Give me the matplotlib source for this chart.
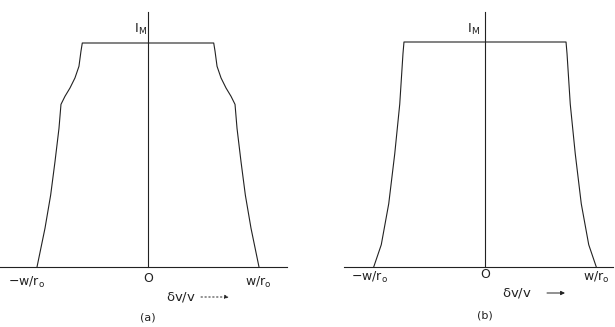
import numpy as np
import matplotlib
matplotlib.use("Agg")
import matplotlib.pyplot as plt

plt.rcParams['mathtext.fontset'] = 'dejavusans'
plt.rcParams['font.family'] = ['DejaVu Sans']

# profile (a): normalized height vs half-width (in units of w/r0)
h_a = [1.0, 0.963, 0.896, 0.844, 0.799, 0.762, 0.726, 0.619, 0.470, 0.321, 0.173, 0.0]
w_a = [0.592, 0.604, 0.622, 0.658, 0.703, 0.748, 0.784, 0.802, 0.838, 0.877, 0.928, 1.0]

# profile (b)
h_b = [1.0, 0.948, 0.724, 0.503, 0.281, 0.099, 0.0]
w_b = [0.728, 0.737, 0.766, 0.811, 0.865, 0.932, 1.0]

tick_labels = [r'$\mathrm{-w/r_o}$', 'O', r'$\mathrm{w/r_o}$']
col = '#222222'
lw = 0.8

fig = plt.figure(figsize=(6.15, 3.27), dpi=100)

# axes in pixel mapping: center px, baseline px, height px, unit px
panels = [
    dict(rect=[0.0, 0.0, 0.5, 1.0], cx=148, by=267, hp=224, up=111,
         h=h_a, w=w_a, base=(0, 287), vtop=12, lab='(a)', labx=148, laby=318,
         tl=[(27, 282), (148, 278), (258, 282)], dv=(181, 297), arr=(201, 229),
         dashed=True, im=(141, 29)),
    dict(rect=[0.5, 0.0, 0.5, 1.0], cx=485, by=267, hp=225, up=111.3,
         h=h_b, w=w_b, base=(344, 613), vtop=12, lab='(b)', labx=485, laby=315,
         tl=[(370, 277), (485, 275), (596, 277)], dv=(517, 293), arr=(547, 565),
         dashed=False, im=(474, 29)),
]

for p in panels:
    ax = fig.add_axes(p['rect'])
    x0px = p['rect'][0] * 615
    x1px = x0px + p['rect'][2] * 615
    fx = lambda px: (px - p['cx']) / p['up']
    fy = lambda py: (p['by'] - py) / p['hp']
    ax.set_xlim(fx(x0px), fx(x1px))
    ax.set_ylim(fy(327), fy(0))
    ax.axis('off')

    h = np.array(p['h'])
    w = np.array(p['w'])
    xs = np.concatenate([-w[::-1], w])
    ys = np.concatenate([h[::-1], h])
    ax.plot(xs, ys, color=col, lw=lw)

    # baseline and vertical axis
    ax.plot([fx(p['base'][0]), fx(p['base'][1])], [0, 0], color=col, lw=lw)
    ax.plot([0, 0], [0, fy(p['vtop'])], color=col, lw=lw)

    for (px, py), t in zip(p['tl'], tick_labels):
        ax.text(fx(px), fy(py), t, ha='center', va='center', fontsize=9, color=col)

    ax.text(fx(p['im'][0]), fy(p['im'][1]), r'$\mathrm{I_M}$', ha='center',
            va='center', fontsize=9.5, color=col)
    ax.text(fx(p['dv'][0]), fy(p['dv'][1]), r'$\mathrm{\delta v/v}$', ha='center',
            va='center', fontsize=9.5, color=col)
    ax.annotate('', xy=(fx(p['arr'][1]), fy(p['dv'][1])),
                xytext=(fx(p['arr'][0]), fy(p['dv'][1])),
                arrowprops=dict(arrowstyle='-|>', color=col, lw=0.7,
                                linestyle=(0, (1.5, 2.5)) if p['dashed'] else '-',
                                mutation_scale=6, shrinkA=0, shrinkB=0))
    ax.text(fx(p['labx']), fy(p['laby']), p['lab'], ha='center', va='center',
            fontsize=8, color=col)

fig.savefig('out.png', dpi=100)
